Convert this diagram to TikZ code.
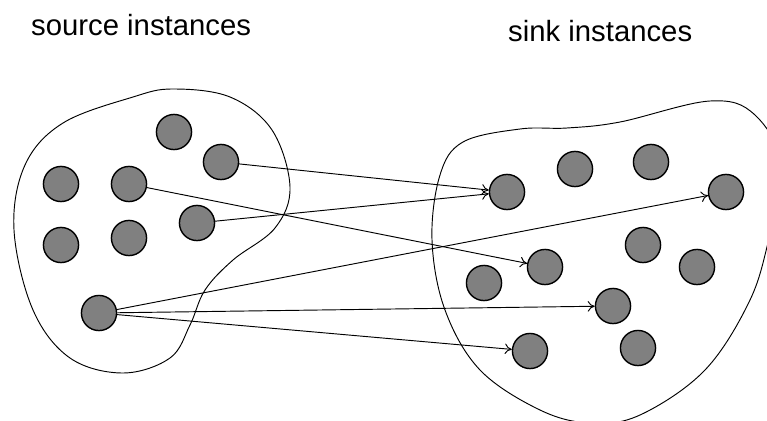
\documentclass[tikz,border=0pt]{standalone}
\usepackage{fontspec}
\setmainfont{Liberation Sans}
\usetikzlibrary{arrows.meta}
\tikzstyle{instance} = [circle, minimum size=30, inner sep=0pt, draw=black, line width=1.2pt, fill=black!50]
\tikzstyle{region} = [line width=0.8pt, draw=black]
\tikzstyle{label} = [anchor=base west, inner sep=0pt, font=\fontsize{25}{30}\selectfont]
\tikzstyle{arrow} = [line width=0.8pt, -{To[length=6pt, width=9pt]}]

\begin{document}
\begin{tikzpicture}[x=0.03cm, y=-0.03cm]

    \useasboundingbox (0,0) rectangle (767,420);
    \clip (0,0) rectangle (767,420);

    % Titles
    \node (srctitle) [label] at (31,35) {source instances};
    \node (snktitle) [label] at (508,41) {sink instances};

    % Outlines of the two sets
    \draw [region] plot [smooth cycle, tension=0.6] coordinates {
        (63,123) (133,97) (173,89) (230,97) (272,130) (290,187) (275,228)
        (233,260) (205,290) (190,325) (170,358) (123,373) (70,358) (33,310)
        (14,230) (25,165)};
    \draw [region] plot [smooth cycle, tension=0.6] coordinates {
        (432,240) (440,175) (463,142) (520,129) (567,128) (620,122) (710,101)
        (755,115) (785,170) (770,235) (750,300) (705,370) (640,415) (590,423)
        (540,410) (480,370) (445,310)};

    % Source instances
    \node (srcA) [instance] at (174,132) {};
    \node (srcB) [instance] at (221,162) {};
    \node (srcC) [instance] at (61,184) {};
    \node (srcD) [instance] at (129,184) {};
    \node (srcE) [instance] at (197,223) {};
    \node (srcF) [instance] at (61,245) {};
    \node (srcG) [instance] at (129,238) {};
    \node (srcH) [instance] at (99,313) {};

    % Sink instances
    \node (snkA) [instance] at (507,192) {};
    \node (snkB) [instance] at (575,169) {};
    \node (snkC) [instance] at (651,162) {};
    \node (snkD) [instance] at (726,192) {};
    \node (snkE) [instance] at (643,245) {};
    \node (snkF) [instance] at (697,267) {};
    \node (snkG) [instance] at (545,267) {};
    \node (snkH) [instance] at (484,283) {};
    \node (snkI) [instance] at (613,306) {};
    \node (snkJ) [instance] at (530,351) {};
    \node (snkK) [instance] at (638,348) {};

    % Mappings
    \draw [arrow] (srcB) -- (snkA);
    \draw [arrow] (srcE) -- (snkA);
    \draw [arrow] (srcD) -- (snkG);
    \draw [arrow] (srcH) -- (snkD);
    \draw [arrow] (srcH) -- (snkI);
    \draw [arrow] (srcH) -- (snkJ);

\end{tikzpicture}
\end{document}
